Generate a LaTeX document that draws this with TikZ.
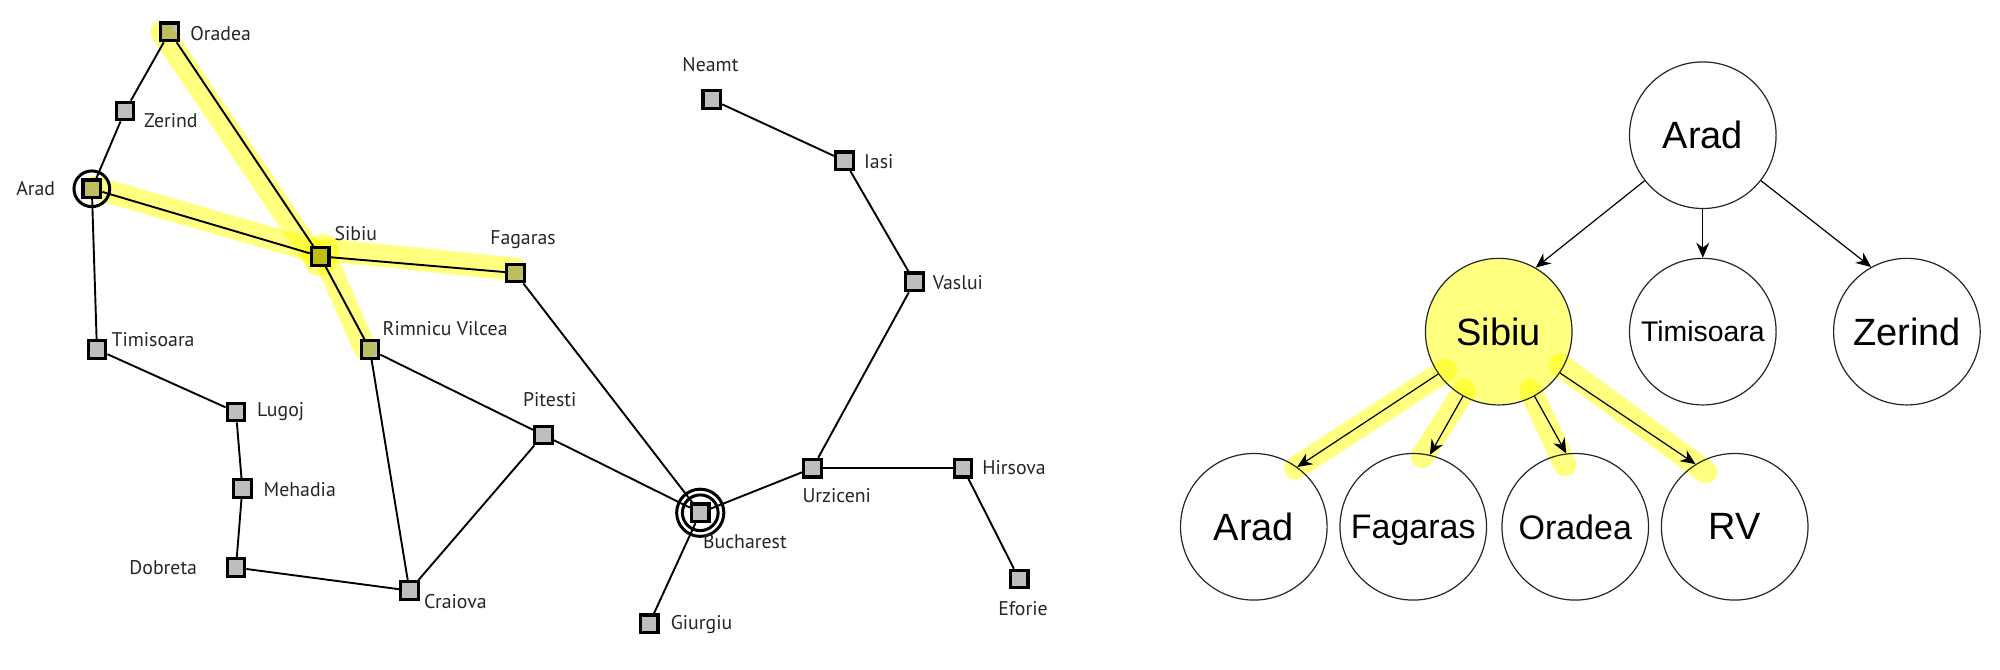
\documentclass[tikz,border=0pt]{standalone}
\usepackage{fontspec}
\setmainfont{Liberation Sans}
\newfontfamily\citefont{PT Sans}
\usetikzlibrary{arrows.meta}
\definecolor{hl}{HTML}{FFFF80}
\definecolor{citygray}{HTML}{BEBEBE}
\tikzset{
  x=0.6378pt,y=-0.6378pt,
  city/.style={draw=black,fill=citygray,rectangle,line width=1.6pt,minimum size=8.8pt,inner sep=0pt},
  cityname/.style={font=\citefont\fontsize{9.9}{11}\selectfont,inner sep=0pt,text=black!85,yshift=-0.6pt},
  road/.style={draw=black,line width=0.95pt},
  ring/.style={draw=black,line width=1.5pt,fill=none,circle,inner sep=0pt},
  band/.style={draw=hl,line width=11.5pt,line cap=round,blend mode=multiply},
  tree/.style={draw=black!85,line width=0.6pt,fill=white,circle,minimum size=73.3pt,inner sep=0pt,text depth=0pt,font=\fontsize{19}{22}\selectfont},
  link/.style={draw=black,line width=0.6pt,-{Stealth[length=7.5pt,width=6.5pt]}},
}
\begin{document}
\begin{tikzpicture}
\useasboundingbox[fill=white] (0,0) rectangle (1568,524.5);
% map cities
\node[city] (Oradea) at (133,25) {};
\node[city] (Zerind) at (98,87) {};
\node[city] (Arad) at (72,148) {};
\node[city] (Sibiu) at (251,201) {};
\node[city] (Fagaras) at (404,214) {};
\node[city] (Rimnicu) at (290,274) {};
\node[city] (Timisoara) at (76,274) {};
\node[city] (Lugoj) at (185,323) {};
\node[city] (Mehadia) at (190,383) {};
\node[city] (Dobreta) at (185,445) {};
\node[city] (Craiova) at (321,463) {};
\node[city] (Pitesti) at (426,341) {};
\node[city] (Bucharest) at (549,402) {};
\node[city] (Giurgiu) at (509,489) {};
\node[city] (Urziceni) at (637,367) {};
\node[city] (Hirsova) at (755,367) {};
\node[city] (Eforie) at (799,454) {};
\node[city] (Vaslui) at (717,221) {};
\node[city] (Iasi) at (662,126) {};
\node[city] (Neamt) at (558,78) {};
% roads
\draw[road] (Oradea) -- (Zerind);
\draw[road] (Zerind) -- (Arad);
\draw[road] (Oradea) -- (Sibiu);
\draw[road] (Arad) -- (Sibiu);
\draw[road] (Arad) -- (Timisoara);
\draw[road] (Sibiu) -- (Fagaras);
\draw[road] (Sibiu) -- (Rimnicu);
\draw[road] (Timisoara) -- (Lugoj);
\draw[road] (Lugoj) -- (Mehadia);
\draw[road] (Mehadia) -- (Dobreta);
\draw[road] (Dobreta) -- (Craiova);
\draw[road] (Rimnicu) -- (Craiova);
\draw[road] (Rimnicu) -- (Pitesti);
\draw[road] (Craiova) -- (Pitesti);
\draw[road] (Pitesti) -- (Bucharest);
\draw[road] (Fagaras) -- (Bucharest);
\draw[road] (Bucharest) -- (Giurgiu);
\draw[road] (Bucharest) -- (Urziceni);
\draw[road] (Urziceni) -- (Hirsova);
\draw[road] (Hirsova) -- (Eforie);
\draw[road] (Urziceni) -- (Vaslui);
\draw[road] (Vaslui) -- (Iasi);
\draw[road] (Iasi) -- (Neamt);
% rings
\node[ring,minimum size=28pt*0.6378] (AradRing) at (Arad) {};
\node[ring,minimum size=37pt*0.6378] (BucharestOuter) at (Bucharest) {};
\node[ring,minimum size=28pt*0.6378] (BucharestInner) at (Bucharest) {};
% map labels
\node[cityname] (lOradea) at (173,25) {Oradea};
\node[cityname] (lZerind) at (134,94) {Zerind};
\node[cityname] (lArad) at (28,147) {Arad};
\node[cityname] (lSibiu) at (279,182) {Sibiu};
\node[cityname] (lFagaras) at (410,187) {Fagaras};
\node[cityname] (lRimnicu) at (349,257) {Rimnicu Vilcea};
\node[cityname] (lTimisoara) at (120,265) {Timisoara};
\node[cityname] (lLugoj) at (220,322) {Lugoj};
\node[cityname] (lMehadia) at (235,383) {Mehadia};
\node[cityname] (lDobreta) at (128,444) {Dobreta};
\node[cityname] (lCraiova) at (357,471) {Craiova};
\node[cityname] (lPitesti) at (431,312) {Pitesti};
\node[cityname] (lBucharest) at (584,424) {Bucharest};
\node[cityname] (lGiurgiu) at (550,489) {Giurgiu};
\node[cityname] (lUrziceni) at (656,388) {Urziceni};
\node[cityname] (lHirsova) at (795,366) {Hirsova};
\node[cityname] (lEforie) at (802,476) {Eforie};
\node[cityname] (lVaslui) at (751,221) {Vaslui};
\node[cityname] (lIasi) at (689,126) {Iasi};
\node[cityname] (lNeamt) at (557,50) {Neamt};
% search tree
\node[tree] (tArad) at (1335,106) {Arad};
\node[tree,fill=hl] (tSibiu) at (1175,260) {Sibiu};
\node[tree,font=\fontsize{14.2}{17}\selectfont] (tTimisoara) at (1335,260) {Timisoara};
\node[tree] (tZerind) at (1495,260) {Zerind};
\node[tree] (tAradB) at (983,413) {Arad};
\node[tree,font=\fontsize{17}{20}\selectfont] (tFagaras) at (1108,413) {Fagaras};
\node[tree,font=\fontsize{17}{20}\selectfont] (tOradea) at (1235,413) {Oradea};
\node[tree] (tRV) at (1360,413) {RV};
% map highlights
\coordinate (hOra) at (127,25);
\coordinate (hSibA) at (245,200);
\coordinate (hAra) at (74,147);
\coordinate (hSibB) at (251,198);
\coordinate (hFag) at (404,211);
\coordinate (hSibC) at (256,196);
\coordinate (hSibD) at (258,209);
\coordinate (hRim) at (286,273);
\coordinate (hBlobA) at (253,196);
\coordinate (hBlobB) at (251,204);
\draw[band] (hOra) -- (hSibA);
\draw[band] (hAra) -- (hSibB);
\draw[band] (hSibC) -- (hFag);
\draw[band] (hSibD) -- (hRim);
\draw[band,line width=16pt] (hBlobA) -- (hBlobB);
% tree highlights
\coordinate (tha) at (1134,290);
\coordinate (thb) at (1015.5,367);
\coordinate (thc) at (1148,306);
\coordinate (thd) at (1115,358);
\coordinate (the) at (1200,306);
\coordinate (thf) at (1227,364.5);
\coordinate (thg) at (1223,286);
\coordinate (thh) at (1337.5,370);
\draw[band] (tha) -- (thb);
\draw[band] (thc) -- (thd);
\draw[band] (the) -- (thf);
\draw[band] (thg) -- (thh);
% tree links
\draw[link] (tArad.218) -- (tSibiu.60);
\draw[link] (tArad.south) -- (tTimisoara.north);
\draw[link] (tArad.322) -- (tZerind.119);
\draw[link] (tSibiu.215.6) -- (tAradB.54.7);
\draw[link] (tSibiu.241.6) -- (tFagaras.77.6);
\draw[link] (tSibiu.299.8) -- (tOradea.97);
\draw[link] (tSibiu.326) -- (tRV.122.3);
\end{tikzpicture}
\end{document}
